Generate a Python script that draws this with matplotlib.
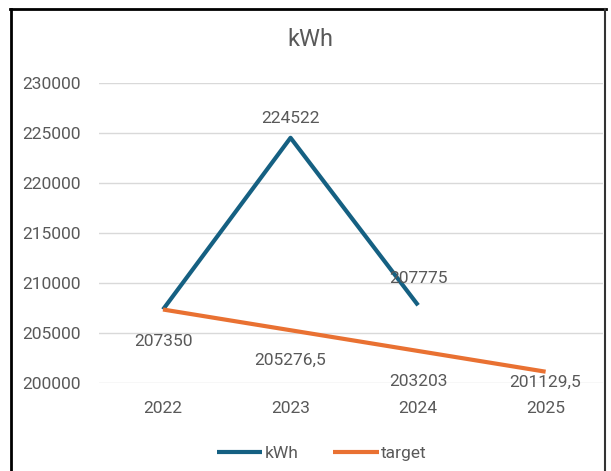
import matplotlib.pyplot as plt
from matplotlib.lines import Line2D

years = ['2022', '2023', '2024', '2025']
kwh = [207350, 224522, 207775]
target = [207350, 205276.5, 203203, 201129.5]

# label offsets (points) as Excel placed them
kwh_offsets = [None, 14, 19]
target_offsets = [-23, -22, -22, -8]

TEXT = '#595959'
BLUE = '#156082'
ORANGE = '#E97132'

plt.rcParams['font.family'] = ['Roboto', 'DejaVu Sans']


def fmt(v):
    """Excel style number with comma decimal."""
    if float(v).is_integer():
        return str(int(v))
    return repr(float(v)).replace('.', ',')


W, H = 611, 471
fig = plt.figure(figsize=(W / 100, H / 100), dpi=100)
ax = fig.add_axes([99.25 / W, 88 / H, (603 - 99.25) / W, 300 / H])

x_kwh = range(len(kwh))
x_target = range(len(target))
ax.plot(x_kwh, kwh, color=BLUE, lw=3, solid_capstyle='butt', label='kWh')
ax.plot(x_target, target, color=ORANGE, lw=3, solid_capstyle='butt', label='target')

for x, v, off in zip(x_kwh, kwh, kwh_offsets):
    if off is None:
        continue
    ax.annotate(fmt(v), (x, v), xytext=(0, off), textcoords='offset points',
                ha='center', va='center', color=TEXT, fontsize=12.5)
for x, v, off in zip(x_target, target, target_offsets):
    ax.annotate(fmt(v), (x, v), xytext=(0, off), textcoords='offset points',
                ha='center', va='center', color=TEXT, fontsize=12.5)

ax.set_xlim(-0.5, 3.45)
ax.set_ylim(200000, 230000)
ax.set_yticks(range(200000, 230001, 5000))
ax.set_xticks(range(len(years)))
ax.set_xticklabels(years)
ax.tick_params(length=0, colors=TEXT, labelsize=12.5)
ax.tick_params(axis='y', pad=13)
ax.tick_params(axis='x', pad=13)
ax.grid(axis='y', color='#D9D9D9', lw=1)
ax.set_axisbelow(True)
for s in ax.spines.values():
    s.set_visible(False)

fig.text(310 / W, 1 - 40 / H, 'kWh', ha='center', va='center', color=TEXT, fontsize=17)

fig.legend(loc='center', bbox_to_anchor=(322 / W, 1 - 453 / H), ncol=2, frameon=False,
           fontsize=12.5, labelcolor=TEXT, handlelength=2.6, handletextpad=0.15,
           columnspacing=2.0)

# outer border of the chart object
fig.add_artist(Line2D([11 / W, 11 / W], [0, 1 - 9 / H], color='black', lw=2))
fig.add_artist(Line2D([10 / W, 606 / W], [1 - 9 / H, 1 - 9 / H], color='black', lw=2))
fig.add_artist(Line2D([605 / W, 605 / W], [0, 1 - 9 / H], color='#333333', lw=1.5))

fig.savefig('out.png', dpi=100, facecolor='white')
